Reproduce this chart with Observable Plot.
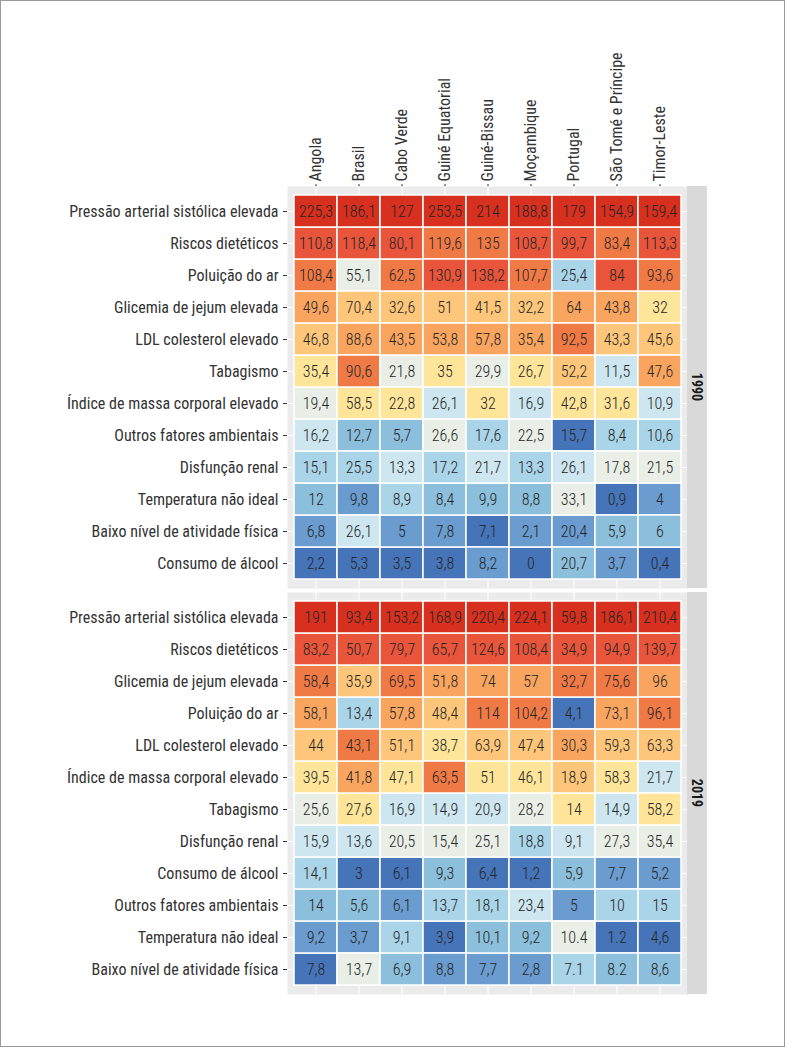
<!DOCTYPE html>
<html><head><meta charset="utf-8">
<script src="https://cdn.jsdelivr.net/npm/d3@7"></script>
<script src="https://cdn.jsdelivr.net/npm/@observablehq/plot@0.6"></script>
<style>
html,body{margin:0;padding:0;background:#fff;}
#chart{position:relative;width:785px;height:1047px;overflow:hidden;background:#fff;}
#chart svg{display:block;}
#border{position:absolute;left:0;top:0;width:785px;height:1047px;box-sizing:border-box;border:1px solid #9a9a9a;pointer-events:none;}
</style></head><body><div id="chart"><div id="border"></div></div>
<script>
const countries = ["Angola","Brasil","Cabo Verde","Guiné Equatorial","Guiné-Bissau","Moçambique","Portugal","São Tomé e Príncipe","Timor-Leste"];

const factors1990 = ["Pressão arterial sistólica elevada","Riscos dietéticos","Poluição do ar","Glicemia de jejum elevada","LDL colesterol elevado","Tabagismo","Índice de massa corporal elevado","Outros fatores ambientais","Disfunção renal","Temperatura não ideal","Baixo nível de atividade física","Consumo de álcool"];
const factors2019 = ["Pressão arterial sistólica elevada","Riscos dietéticos","Glicemia de jejum elevada","Poluição do ar","LDL colesterol elevado","Índice de massa corporal elevado","Tabagismo","Disfunção renal","Consumo de álcool","Outros fatores ambientais","Temperatura não ideal","Baixo nível de atividade física"];

// 1990 values per country (in factors1990 order)
const angola1990 = ["225,3","110,8","108,4","49,6","46,8","35,4","19,4","16,2","15,1","12","6,8","2,2"];
const brasil1990 = ["186,1","118,4","55,1","70,4","88,6","90,6","58,5","12,7","25,5","9,8","26,1","5,3"];
const caboVerde1990 = ["127","80,1","62,5","32,6","43,5","21,8","22,8","5,7","13,3","8,9","5","3,5"];
const guineEq1990 = ["253,5","119,6","130,9","51","53,8","35","26,1","26,6","17,2","8,4","7,8","3,8"];
const guineBissau1990 = ["214","135","138,2","41,5","57,8","29,9","32","17,6","21,7","9,9","7,1","8,2"];
const mocambique1990 = ["188,8","108,7","107,7","32,2","35,4","26,7","16,9","22,5","13,3","8,8","2,1","0"];
const portugal1990 = ["179","99,7","25,4","64","92,5","52,2","42,8","15,7","26,1","33,1","20,4","20,7"];
const saoTome1990 = ["154,9","83,4","84","43,8","43,3","11,5","31,6","8,4","17,8","0,9","5,9","3,7"];
const timor1990 = ["159,4","113,3","93,6","32","45,6","47,6","10,9","10,6","21,5","4","6","0,4"];

// 2019 values per country (in factors2019 order)
const angola2019 = ["191","83,2","58,4","58,1","44","39,5","25,6","15,9","14,1","14","9,2","7,8"];
const brasil2019 = ["93,4","50,7","35,9","13,4","43,1","41,8","27,6","13,6","3","5,6","3,7","13,7"];
const caboVerde2019 = ["153,2","79,7","69,5","57,8","51,1","47,1","16,9","20,5","6,1","6,1","9,1","6,9"];
const guineEq2019 = ["168,9","65,7","51,8","48,4","38,7","63,5","14,9","15,4","9,3","13,7","3,9","8,8"];
const guineBissau2019 = ["220,4","124,6","74","114","63,9","51","20,9","25,1","6,4","18,1","10,1","7,7"];
const mocambique2019 = ["224,1","108,4","57","104,2","47,4","46,1","28,2","18,8","1,2","23,4","9,2","2,8"];
const portugal2019 = ["59,8","34,9","32,7","4,1","30,3","18,9","14","9,1","5,9","5","10.4","7.1"];
const saoTome2019 = ["186,1","94,9","75,6","73,1","59,3","58,3","14,9","27,3","7,7","10","1.2","8.2"];
const timor2019 = ["210,4","139,7","96","96,1","63,3","21,7","58,2","35,4","5,2","15","4,6","8,6"];

const cols1990 = [angola1990, brasil1990, caboVerde1990, guineEq1990, guineBissau1990, mocambique1990, portugal1990, saoTome1990, timor1990];
const cols2019 = [angola2019, brasil2019, caboVerde2019, guineEq2019, guineBissau2019, mocambique2019, portugal2019, saoTome2019, timor2019];

const palette = ["#d7301f","#e8553a","#f07a46","#f9a55f","#fdc67a","#fee59a","#e9efe6","#cde6f0","#aad4e8","#8cbfdc","#6a9ccf","#4674b8"];
const FONT = "'Liberation Sans Narrow','Roboto Condensed','DejaVu Sans Condensed','Liberation Sans',sans-serif";

function buildData(cols, factors) {
  const data = [];
  cols.forEach((col, j) => {
    const vals = col.map(s => +s.replace(",", "."));
    const order = d3.range(vals.length).sort((a, b) => vals[a] - vals[b]);
    order.forEach((i, pos) => data.push({
      country: countries[j], factor: factors[i], label: col[i], value: vals[i], rank: vals.length - pos
    }));
  });
  return data;
}

function makeChart(year, factors, cols, top, bottom, showX) {
  const data = buildData(cols, factors);
  const panelH = 402;
  const strip = (index, scales, values, dim) => {
    const g = d3.create("svg:g");
    const x0 = dim.width - dim.marginRight;
    const y0 = dim.marginTop, y1 = dim.height - dim.marginBottom;
    g.append("rect").attr("x", x0).attr("y", y0).attr("width", 20).attr("height", y1 - y0).attr("fill", "#d9d9d9");
    g.append("text").attr("transform", `translate(${x0 + 10},${(y0 + y1) / 2}) rotate(90)`)
      .attr("text-anchor", "middle").attr("dy", "0.35em")
      .attr("font-weight", "bold").attr("font-size", 14).attr("fill", "#1a1a1a").text(year);
    return g.node();
  };
  return Plot.plot({
    width: 785,
    height: top + panelH + bottom,
    marginLeft: 287, marginRight: 98, marginTop: top, marginBottom: bottom,
    style: {fontFamily: FONT, fontSize: "16px", color: "#333", background: "white", overflow: "visible"},
    x: {domain: countries, padding: 0, insetLeft: 4, insetRight: 4, axis: showX ? "top" : null,
        tickRotate: -90, tickSize: 3, tickPadding: 2, label: null},
    y: {domain: factors, padding: 0, insetTop: 4, insetBottom: 4, tickSize: 4, tickPadding: 5, label: null},
    color: {type: "ordinal", domain: d3.range(1, 13), range: palette},
    marks: [
      Plot.frame({fill: "#ebebeb", stroke: null}),
      Plot.gridX({stroke: "white", strokeOpacity: 1, strokeWidth: 1}),
      Plot.gridY({stroke: "white", strokeOpacity: 1, strokeWidth: 1}),
      Plot.cell(data, {x: "country", y: "factor", fill: "rank", stroke: "white", strokeWidth: 1.5}),
      Plot.text(data, {x: "country", y: "factor", text: "label", fill: "#262626", fontSize: 16, fontWeight: 300}),
      strip
    ]
  });
}

const root = document.getElementById("chart");
const border = document.getElementById("border");
root.insertBefore(makeChart("1990", factors1990, cols1990, 186, 2, true), border);
root.insertBefore(makeChart("2019", factors2019, cols2019, 2, 53, false), border);
</script>
</body></html>
